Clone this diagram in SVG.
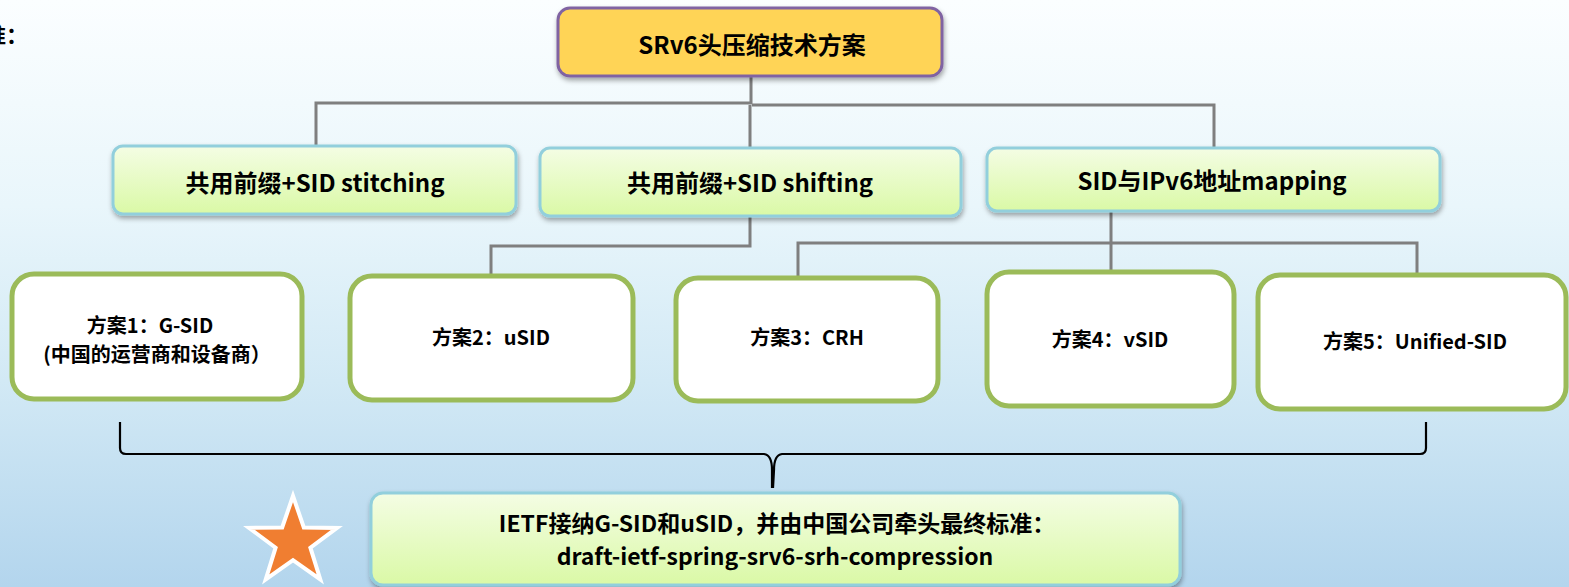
<svg xmlns="http://www.w3.org/2000/svg" width="1569" height="587" viewBox="0 0 1569 587">
  <defs>
    <linearGradient id="bg" x1="0" y1="0" x2="0" y2="1">
      <stop offset="0" stop-color="#fbfeff"/>
      <stop offset="0.35" stop-color="#e9f6fb"/>
      <stop offset="0.65" stop-color="#d2e9f5"/>
      <stop offset="1" stop-color="#b3d5ed"/>
    </linearGradient>
    <linearGradient id="green" x1="0" y1="0" x2="0" y2="1">
      <stop offset="0" stop-color="#f4fde4"/>
      <stop offset="1" stop-color="#daf9a6"/>
    </linearGradient>
    <filter id="sh" x="-5%" y="-10%" width="110%" height="130%">
      <feDropShadow dx="1" dy="3" stdDeviation="2.5" flood-color="#000" flood-opacity="0.35"/>
    </filter>
    <style>
      text { font-family: "Noto Sans CJK SC", "Noto Sans", sans-serif; font-weight: bold; fill: #000; text-anchor: middle; }
      .l2 { fill: url(#green); stroke: #92cfdc; stroke-width: 3; filter: url(#sh); }
      .l3 { fill: #fff; stroke: #9bbb59; stroke-width: 5; }
      .conn { fill: none; stroke: #7f7f7f; stroke-width: 3; }
      .brace { fill: none; stroke: #000; stroke-width: 2.2; }
      .t2 { font-size: 24px; }
      .t3 { font-size: 20px; }
      .tb { font-size: 23px; }
    </style>
  </defs>
  <rect x="0" y="0" width="1569" height="587" fill="url(#bg)"/>
  <text x="-16" y="43" font-size="22" style="text-anchor:start">准：</text>

  <g id="connectors">
    <path class="conn" d="M751,76 V104 M316,147 V103 H752 M752,105 H1214 V149 M750,105 V147"/>
    <path class="conn" d="M750,216 V246 H491 V274"/>
    <path class="conn" d="M1111,211 V272 M798,280 V243 H1417 V273"/>
    <path class="brace" d="M120,422 V448 Q120,454 126,454 H764 Q772,455 772,470 V488 M1426,422 V448 Q1426,454 1420,454 H782 Q774,455 774,470 L773,488"/>
  </g>

  <g id="root">
    <rect x="558" y="8" width="384" height="68" rx="12" fill="#ffd457" stroke="#8064a2" stroke-width="3" filter="url(#sh)"/>
    <text x="752" y="54" font-size="24">SRv6头压缩技术方案</text>
  </g>

  <g id="stitching">
    <rect class="l2" x="113" y="146" width="403" height="68" rx="10"/>
    <text class="t2" x="315" y="192">共用前缀+SID stitching</text>
  </g>
  <g id="shifting">
    <rect class="l2" x="540" y="148" width="421" height="68" rx="10"/>
    <text class="t2" x="750" y="192">共用前缀+SID shifting</text>
  </g>
  <g id="mapping">
    <rect class="l2" x="987" y="148" width="453" height="63" rx="10"/>
    <text class="t2" x="1212" y="190">SID与IPv6地址mapping</text>
  </g>

  <g id="gsid">
    <rect class="l3" x="12" y="274" width="290" height="125" rx="22"/>
    <text class="t3" x="150" y="333">方案1：G-SID</text>
    <text class="t3" x="157" y="362">(中国的运营商和设备商）</text>
  </g>
  <g id="usid">
    <rect class="l3" x="350" y="276" width="283" height="124" rx="22"/>
    <text class="t3" x="491" y="345">方案2：uSID</text>
  </g>
  <g id="crh">
    <rect class="l3" x="676" y="278" width="262" height="123" rx="22"/>
    <text class="t3" x="807" y="345">方案3：CRH</text>
  </g>
  <g id="vsid">
    <rect class="l3" x="987" y="272" width="247" height="134" rx="22"/>
    <text class="t3" x="1110" y="347">方案4：vSID</text>
  </g>
  <g id="unified">
    <rect class="l3" x="1258" y="275" width="308" height="134" rx="22"/>
    <text class="t3" x="1415" y="349">方案5：Unified-SID</text>
  </g>

  <g id="standard">
    <rect class="l2" x="371" y="493" width="809" height="92" rx="12"/>
    <text class="tb" x="777" y="532">IETF接纳G-SID和uSID，并由中国公司牵头最终标准：</text>
    <text class="tb" x="775" y="565">draft-ietf-spring-srv6-srh-compression</text>
  </g>

  <g id="star">
    <polygon points="293,496 303.8,527.5 337,527.9 310.4,547.7 320.3,579.4 293,560.2 265.7,579.4 275.6,547.7 249,527.9 282.2,527.5" fill="#f07e31" stroke="#fff" stroke-width="4" stroke-linejoin="miter"/>
  </g>
</svg>
